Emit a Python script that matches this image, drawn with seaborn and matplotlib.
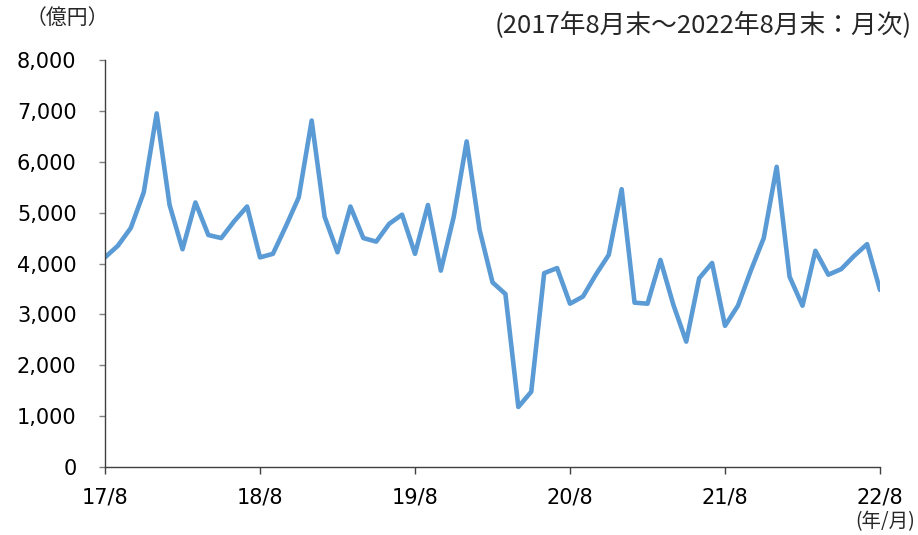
import matplotlib
matplotlib.use("Agg")
import matplotlib.pyplot as plt
import pandas as pd
import seaborn as sns
from matplotlib.ticker import FuncFormatter

# ── Data: month-end values (億円), 2017/8 – 2022/8 ─────────────────────────────
values = [
    4120, 4350, 4700, 5400, 6950,
    5150, 4280, 5200, 4560, 4500, 4830, 5120, 4120, 4190, 4730, 5300, 6810,
    4920, 4220, 5120, 4500, 4430, 4780, 4960, 4190, 5150, 3860, 4920, 6400,
    4660, 3630, 3400, 1180, 1480, 3810, 3910, 3210, 3350, 3780, 4170, 5460,
    3230, 3210, 4070, 3190, 2465, 3710, 4010, 2775, 3170, 3860, 4500, 5900,
    3740, 3170, 4250, 3780, 3890, 4150, 4380, 3480,
]
tick_labels = ["17/8", "18/8", "19/8", "20/8", "21/8", "22/8"]
y_ticks = [0, 1000, 2000, 3000, 4000, 5000, 6000, 7000, 8000]

df = pd.DataFrame({"month": range(len(values)), "value": values})

sns.set_style("white")
plt.rcParams["font.family"] = ["DejaVu Sans", "Noto Sans CJK JP"]

fig = plt.figure(figsize=(9.18, 5.35), dpi=100)
ax = fig.add_axes([105 / 918, 1 - 467 / 535, (880 - 105) / 918, (467 - 60) / 535])

sns.lineplot(data=df, x="month", y="value", color="#5B9BD5", linewidth=3.3, ax=ax)

ax.set_xlim(0, len(values) - 1)
ax.set_ylim(0, 8000)
ax.set_xticks(range(0, len(values), 12))
ax.set_xticklabels(tick_labels)
ax.set_yticks(y_ticks)
ax.yaxis.set_major_formatter(FuncFormatter(lambda v, _: f"{int(v):,}"))
ax.set_xlabel("")
ax.set_ylabel("")

for side in ["top", "right"]:
    ax.spines[side].set_visible(False)
for side in ["left", "bottom"]:
    ax.spines[side].set_color("#404040")
    ax.spines[side].set_linewidth(1.0)

ax.tick_params(axis="y", left=True, direction="out", length=4.5, width=1,
               color="#808080", labelsize=15, pad=16, labelcolor="black")
ax.tick_params(axis="x", bottom=True, direction="out", length=5, width=1,
               color="#404040", labelsize=15, pad=10, labelcolor="black")
ax.grid(False)

cjk = ["Noto Sans CJK JP", "DejaVu Sans"]
fig.text(67 / 918, 1 - 18 / 535, "（億円）", fontsize=15, ha="center", va="center",
         family=cjk)
fig.text(912 / 918, 1 - 25 / 535, "(2017年8月末～2022年8月末：月次)", fontsize=18.5,
         ha="right", va="center", family=cjk)
fig.text(915 / 918, 1 - 522 / 535, "(年/月)", fontsize=14, ha="right", va="center",
         family=cjk)

fig.savefig("out.png", dpi=100)
